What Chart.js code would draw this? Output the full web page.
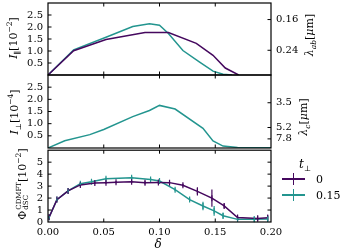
<!DOCTYPE html>
<html><head><meta charset="utf-8">
<script src="https://cdn.jsdelivr.net/npm/chart.js@4.4.1/dist/chart.umd.min.js"></script>
<style>
html,body{margin:0;padding:0;background:#fff;}
#wrap{position:relative;width:340px;height:252px;overflow:hidden;font-family:"DejaVu Serif",serif;color:#000;}
canvas{position:absolute;left:0;}
.lab{position:absolute;white-space:nowrap;transform:translate(-50%,-50%) rotate(-90deg);font-size:11px;line-height:1;}
.hl{position:absolute;white-space:nowrap;transform:translate(-50%,-50%);font-size:11px;line-height:1;}
sub,sup{font-size:7.5px;line-height:0;}
.ss{display:inline-flex;flex-direction:column;vertical-align:middle;font-size:7px;line-height:1;margin-left:1px;}
.mk{position:absolute;}
</style>
</head><body>
<div id="wrap">
<canvas id="c1" width="340" height="78" style="top:0px"></canvas>
<canvas id="c2" width="340" height="79" style="top:72px"></canvas>
<canvas id="c3" width="340" height="107" style="top:145px"></canvas>

<div class="lab" style="left:13px;top:38px"><i>I</i><sub>∥</sub>[10<sup>−2</sup>]</div>
<div class="lab" style="left:14px;top:112px"><i>I</i><sub>⊥</sub>[10<sup>−4</sup>]</div>
<div class="lab" style="left:23px;top:184px">Φ<span class="ss"><span>CDMFT</span><span>dSC</span></span>[10<sup>−2</sup>]</div>
<div class="lab" style="left:309px;top:35px"><i>λ</i><sub><i>ab</i></sub>[<i>μ</i>m]</div>
<div class="lab" style="left:303px;top:117px"><i>λ</i><sub><i>c</i></sub>[<i>μ</i>m]</div>
<div class="hl" style="left:158px;top:244px;font-size:12px"><i>δ</i></div>

<div class="hl" style="left:305px;top:164px;font-size:12px"><i>t</i><sub>⊥</sub></div>
<div class="mk" style="left:282px;top:178px;width:23px;height:1.6px;background:#45085e"></div>
<div class="mk" style="left:292.6px;top:173px;width:1.4px;height:12px;background:#45085e"></div>
<div class="hl" style="left:316px;top:179px;transform:translate(0,-50%)">0</div>
<div class="mk" style="left:282px;top:194px;width:23px;height:1.6px;background:#23958f"></div>
<div class="mk" style="left:292.6px;top:189px;width:1.4px;height:12px;background:#23958f"></div>
<div class="hl" style="left:316px;top:195px;transform:translate(0,-50%)">0.15</div>
</div>
<script>
// ---------- data ----------
const PURPLE = '#45085e';
const TEAL = '#23958f';

// Panel 1: I_parallel [1e-2]
const iParDeltaT0 = [0, 0.023, 0.052, 0.087, 0.108, 0.133, 0.148, 0.159, 0.171];
const iParT0      = [0, 1.01, 1.48, 1.77, 1.77, 1.32, 0.82, 0.29, 0];
const iParDeltaT15 = [0, 0.023, 0.052, 0.076, 0.091, 0.100, 0.108, 0.121, 0.136, 0.148, 0.157, 0.165];
const iParT15      = [0, 1.05, 1.57, 2.02, 2.13, 2.07, 1.73, 1.02, 0.54, 0.16, 0.03, 0];

// Panel 2: I_perp [1e-4]
const iPerpDeltaT15 = [0, 0.015, 0.0375, 0.050, 0.076, 0.091, 0.100, 0.114, 0.139, 0.148, 0.157, 0.170, 0.200];
const iPerpT15      = [0, 0.30, 0.55, 0.76, 1.29, 1.54, 1.75, 1.60, 0.81, 0.29, 0.08, 0.02, 0.01];

// Panel 3: Phi_dSC^CDMFT [1e-2]
const phiDeltaT0 = [0.001, 0.008, 0.018, 0.029, 0.042, 0.052, 0.061, 0.075, 0.087, 0.099, 0.109, 0.121, 0.134, 0.147, 0.158, 0.170, 0.188, 0.197];
const phiT0      = [0.40, 1.87, 2.60, 3.10, 3.26, 3.29, 3.32, 3.37, 3.29, 3.30, 3.29, 3.07, 2.56, 1.99, 1.34, 0.38, 0.30, 0.36];
const phiErrT0   = [0.10, 0.10, 0.10, 0.10, 0.10, 0.10, 0.10, 0.10, 0.15, 0.10, 0.10, 0.12, 0.35, 0.72, 0.20, 0.15, 0.25, 0.25];
const phiDeltaT15 = [0.001, 0.008, 0.018, 0.029, 0.039, 0.052, 0.075, 0.092, 0.100, 0.114, 0.127, 0.139, 0.149, 0.157, 0.170, 0.185, 0.197];
const phiT15      = [0.40, 1.87, 2.60, 3.20, 3.37, 3.62, 3.70, 3.56, 3.42, 2.70, 1.87, 1.34, 0.93, 0.52, 0.22, 0.22, 0.25];
const phiErrT15   = [0.10, 0.10, 0.10, 0.10, 0.10, 0.10, 0.12, 0.10, 0.12, 0.12, 0.15, 0.35, 0.40, 0.25, 0.10, 0.25, 0.20];

// ticks
const deltaTicks = [0, 0.05, 0.10, 0.15, 0.20];
const deltaTickLabels = ['0.00', '0.05', '0.10', '0.15', '0.20'];
const iTicks = [0.5, 1.0, 1.5, 2.0, 2.5];
const iTickLabels = ['0.5', '1.0', '1.5', '2.0', '2.5'];
const phiTicks = [0, 1, 2, 3, 4, 5];
const lambdaAbTickPos = [2.31, 1.03];
const lambdaAbTickLabels = ['0.16', '0.24'];
const lambdaCTickPos = [1.86, 0.843, 0.375];
const lambdaCTickLabels = ['3.5', '5.2', '7.8'];

// ---------- helpers ----------
const pts = (xs, ys) => xs.map((x, i) => ({x, y: ys[i]}));
const FONT = {family: 'DejaVu Serif', size: 10};

const frameTicks = {
  id: 'frameTicks',
  afterDraw(chart, args, o) {
    const {ctx, chartArea: a, scales} = chart;
    const L = 3.5;
    ctx.save();
    ctx.strokeStyle = '#000';
    ctx.lineWidth = 1;
    ctx.beginPath();
    const xs = scales.x, ys = scales.y;
    (o.xTicks || []).forEach(v => {
      const p = xs.getPixelForValue(v);
      if (p <= a.left + 1 || p >= a.right - 1) return;
      ctx.moveTo(p, a.bottom); ctx.lineTo(p, a.bottom - L);
      ctx.moveTo(p, a.top); ctx.lineTo(p, a.top + L);
    });
    (o.yTicks || []).forEach(v => {
      const p = ys.getPixelForValue(v);
      if (p <= a.top + 1 || p >= a.bottom - 1) return;
      ctx.moveTo(a.left, p); ctx.lineTo(a.left + L, p);
    });
    (o.rTicks || []).forEach(v => {
      const p = ys.getPixelForValue(v);
      if (p <= a.top + 1 || p >= a.bottom - 1) return;
      ctx.moveTo(a.right, p); ctx.lineTo(a.right - L, p);
    });
    ctx.stroke();
    ctx.lineWidth = 1.2;
    ctx.strokeRect(a.left, a.top, a.right - a.left, a.bottom - a.top);
    ctx.restore();
  }
};

const errorBars = {
  id: 'errorBars',
  afterDatasetsDraw(chart) {
    const {ctx, scales} = chart;
    chart.data.datasets.forEach((ds, di) => {
      if (!ds.errors) return;
      ctx.save();
      ctx.strokeStyle = ds.borderColor;
      ctx.lineWidth = 1.2;
      ctx.beginPath();
      ds.data.forEach((d, i) => {
        const e = ds.errors[i];
        const x = scales.x.getPixelForValue(d.x);
        ctx.moveTo(x, scales.y.getPixelForValue(d.y - e));
        ctx.lineTo(x, scales.y.getPixelForValue(d.y + e));
      });
      ctx.stroke();
      ctx.restore();
    });
  }
};

function lineDs(data, color, extra) {
  return Object.assign({data, borderColor: color, backgroundColor: color, borderWidth: 1.5,
    pointRadius: 0, tension: 0, fill: false}, extra || {});
}

function zeroPad(s) { s.paddingTop = 0; s.paddingBottom = 0; s.paddingLeft = 0; s.paddingRight = 0; }
const GRID = {display: false, drawTicks: false, tickLength: 0};

function xScale(show) {
  return {type: 'linear', min: 0, max: 0.2, display: show,
    grid: GRID, border: {display: false},
    afterBuildTicks: s => { s.ticks = deltaTicks.map(v => ({value: v})); },
    afterFit: s => { if (show) s.height = 30; zeroPad(s); },
    ticks: {display: show, font: FONT, color: '#000', padding: 4, maxRotation: 0, autoSkip: false,
      callback: (v, i) => deltaTickLabels[i]}};
}

function leftY(max, ticks, labels) {
  return {type: 'linear', position: 'left', min: 0, max,
    grid: GRID, border: {display: false},
    afterBuildTicks: s => { s.ticks = ticks.map(v => ({value: v})); },
    afterFit: s => { s.width = 48; zeroPad(s); },
    ticks: {font: FONT, color: '#000', padding: 5, autoSkip: false,
      callback: (v, i) => labels[i]}};
}

function rightY(max, pos, labels) {
  return {type: 'linear', position: 'right', min: 0, max,
    grid: GRID, border: {display: false},
    afterBuildTicks: s => { s.ticks = pos.map(v => ({value: v})); },
    afterFit: s => { s.width = 69; zeroPad(s); },
    ticks: {font: FONT, color: '#000', padding: 5, autoSkip: false,
      callback: (v, i) => labels[i]}};
}

const common = {responsive: false, animation: false, devicePixelRatio: 1,
  plugins: {legend: {display: false}, tooltip: {enabled: false}}};

new Chart(document.getElementById('c1'), {
  type: 'line',
  data: {datasets: [
    lineDs(pts(iParDeltaT0, iParT0), PURPLE),
    lineDs(pts(iParDeltaT15, iParT15), TEAL)
  ]},
  options: Object.assign({}, common, {
    layout: {padding: {top: 3, bottom: 3, left: 0, right: 0}},
    scales: {x: xScale(false), y: leftY(3, iTicks, iTickLabels), yr: rightY(3, lambdaAbTickPos, lambdaAbTickLabels)},
    plugins: Object.assign({}, common.plugins, {frameTicks: {xTicks: deltaTicks, yTicks: iTicks, rTicks: lambdaAbTickPos}})
  }),
  plugins: [frameTicks]
});

new Chart(document.getElementById('c2'), {
  type: 'line',
  data: {datasets: [
    lineDs(pts(iPerpDeltaT15, iPerpT15), TEAL)
  ]},
  options: Object.assign({}, common, {
    layout: {padding: {top: 3, bottom: 3, left: 0, right: 0}},
    scales: {x: xScale(false), y: leftY(3, iTicks, iTickLabels), yr: rightY(3, lambdaCTickPos, lambdaCTickLabels)},
    plugins: Object.assign({}, common.plugins, {frameTicks: {xTicks: deltaTicks, yTicks: iTicks, rTicks: lambdaCTickPos}})
  }),
  plugins: [frameTicks]
});

const markerOpts = {pointStyle: 'line', rotation: 90, pointRadius: 3, pointBorderWidth: 1.2};
new Chart(document.getElementById('c3'), {
  type: 'line',
  data: {datasets: [
    lineDs(pts(phiDeltaT0, phiT0), PURPLE, Object.assign({errors: phiErrT0}, markerOpts)),
    lineDs(pts(phiDeltaT15, phiT15), TEAL, Object.assign({errors: phiErrT15}, markerOpts))
  ]},
  options: Object.assign({}, common, {
    layout: {padding: {top: 3, bottom: 0, left: 0, right: 69}},
    scales: {x: xScale(true), y: leftY(6, phiTicks, phiTicks.map(String))},
    plugins: Object.assign({}, common.plugins, {frameTicks: {xTicks: deltaTicks, yTicks: phiTicks, rTicks: phiTicks}})
  }),
  plugins: [frameTicks, errorBars]
});
</script>
</body></html>
